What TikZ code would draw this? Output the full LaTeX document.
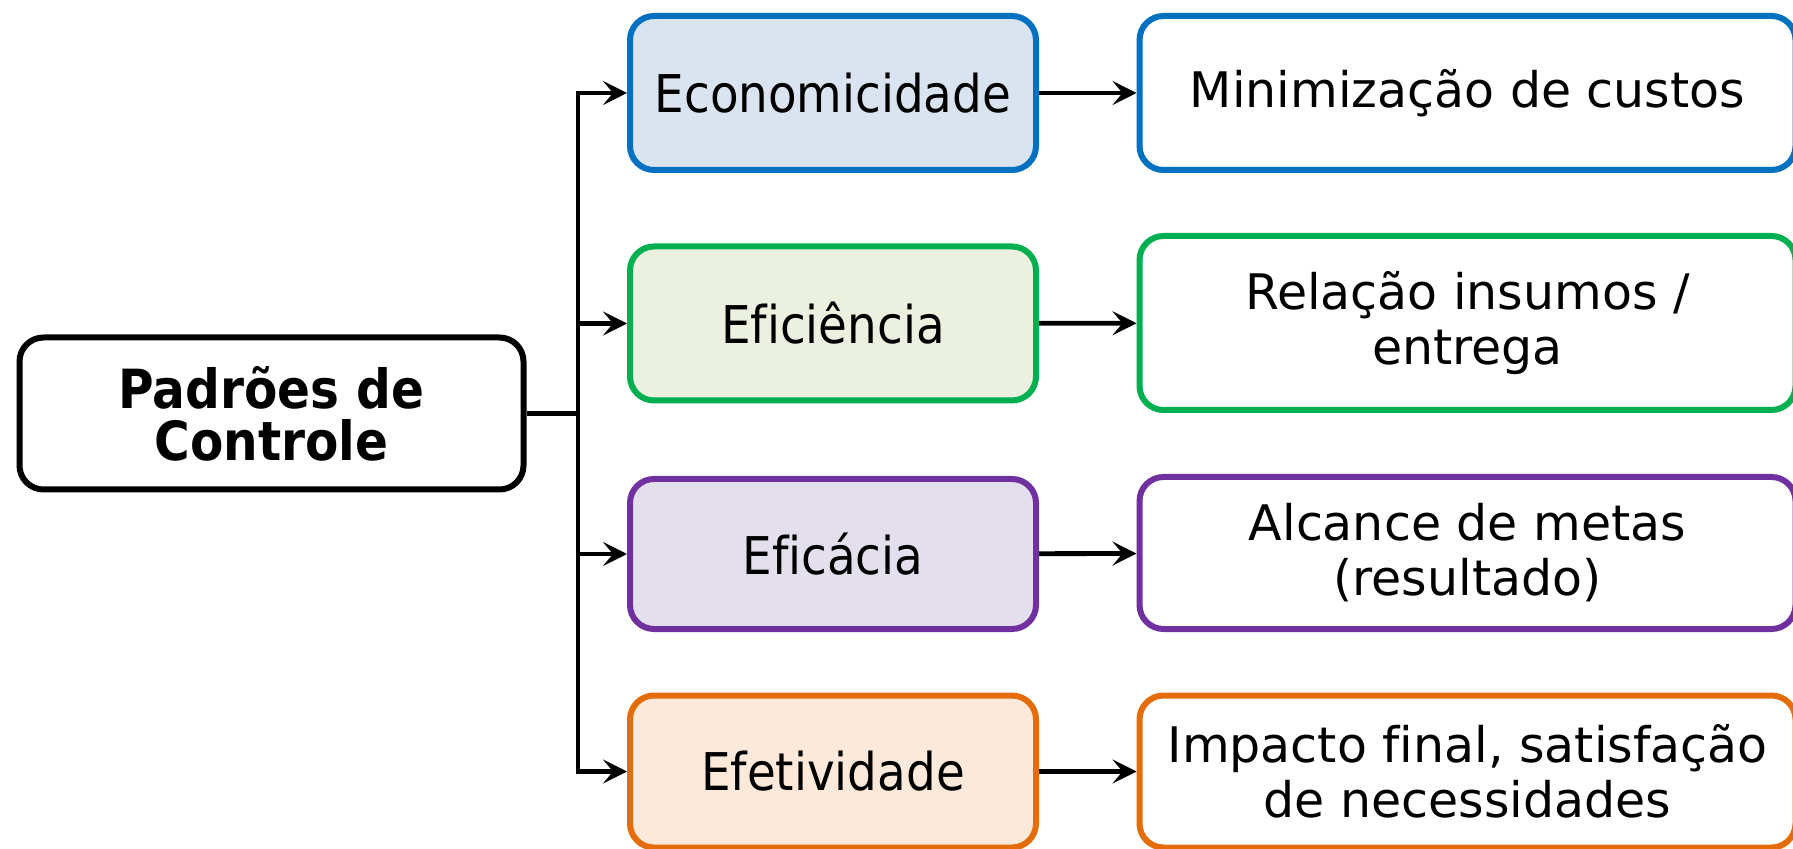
\documentclass[tikz,border=0pt]{standalone}
\usepackage{fontspec}
\setmainfont[Ligatures=NoCommon]{DejaVu Sans}
\newfontfamily\condfont[Ligatures=NoCommon]{DejaVu Sans Condensed}
\usetikzlibrary{arrows.meta}

\definecolor{ecoline}{HTML}{0070C0}
\definecolor{ecofill}{HTML}{DAE3F0}
\definecolor{efiline}{HTML}{00B050}
\definecolor{efifill}{HTML}{EBF1DE}
\definecolor{efcline}{HTML}{7030A0}
\definecolor{efcfill}{HTML}{E4DFEC}
\definecolor{efeline}{HTML}{E46C0A}
\definecolor{efefill}{HTML}{FDE9D9}

\tikzstyle{box} = [rounded corners=12pt,line width=3pt,align=center,inner sep=0pt]
\tikzstyle{padrao} = [box,minimum width=203pt,font=\condfont\fontsize{26}{31}\selectfont]
\tikzstyle{desc} = [box,fill=white,minimum width=328pt,font=\fontsize{24.5}{27.5}\selectfont]
\tikzstyle{seta} = [line width=2.4pt,-{Stealth[length=12pt,width=12pt,inset=5pt]}]

\begin{document}
\begin{tikzpicture}[x=0.5pt,y=-0.5pt]
	\useasboundingbox (0,0) rectangle (1793,849);
	\node[box,draw=black,fill=white,minimum width=252pt,minimum height=76pt,
		font=\condfont\bfseries\fontsize{27}{26}\selectfont] (pc) at (271.5,413.5) {Padrões de\\Controle};
	\coordinate (br) at (578,413.5);
	\node[padrao,draw=ecoline,fill=ecofill,minimum height=77pt] (e1) at (833,93) {Economicidade};
	\node[padrao,draw=efiline,fill=efifill,minimum height=77pt] (e2) at (833,323.5) {Eficiência};
	\node[padrao,draw=efcline,fill=efcfill,minimum height=75pt] (e3) at (833,554) {Eficácia};
	\node[padrao,draw=efeline,fill=efefill,minimum height=76pt] (e4) at (833,771.5) {Efetividade};
	\node[desc,draw=ecoline,minimum height=77pt] (r1) at (1467.5,93) {Minimização de custos};
	\node[desc,draw=efiline,minimum height=87pt] (r2) at (1467.5,323) {Relação insumos /\\entrega};
	\node[desc,draw=efcline,minimum height=76pt] (r3) at (1467.5,553) {Alcance de metas\\(resultado)};
	\node[desc,draw=efeline,minimum height=76pt] (r4) at (1467.5,771.5) {Impacto final, satisfação\\de necessidades};
	\draw[line width=2.4pt] (pc) -- (br);
	\draw[seta] (br) |- (e1);
	\draw[seta] (br) |- (e2);
	\draw[seta] (br) |- (e3);
	\draw[seta] (br) |- (e4);
	\draw[seta] (e1) -- (r1);
	\draw[seta] (e2) -- (r2);
	\draw[seta] (e3) -- (r3);
	\draw[seta] (e4) -- (r4);
\end{tikzpicture}
\end{document}
